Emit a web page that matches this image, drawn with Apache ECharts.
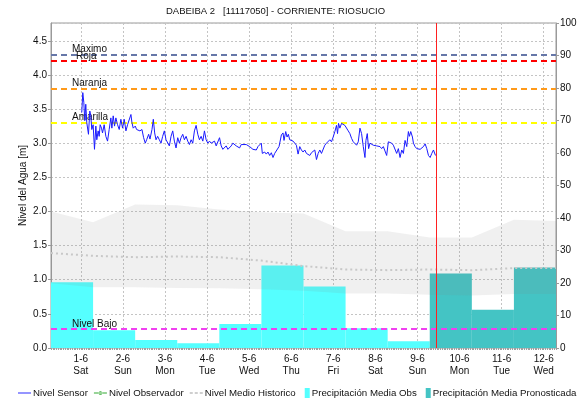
<!DOCTYPE html>
<html><head><meta charset="utf-8">
<script src="https://cdn.jsdelivr.net/npm/echarts@6/dist/echarts.min.js"></script>
<style>html,body{margin:0;padding:0;background:#fff}#c{width:583px;height:401px}</style>
</head><body><div id="c"></div>
<script>
// ---------- DATA ----------
const titleText = 'DABEIBA 2   [11117050] - CORRIENTE: RIOSUCIO';
const dayTicks = [1,2,3,4,5,6,7,8,9,10,11,12];
const tickLabels = ['1-6\nSat','2-6\nSun','3-6\nMon','4-6\nTue','5-6\nWed','6-6\nThu','7-6\nFri','8-6\nSat','9-6\nSun','10-6\nMon','11-6\nTue','12-6\nWed'];
const dayStart = 7/24;            // precipitation days run 07:00 -> 07:00
const axisStartDay = 7/24;
const axisEndDay = 12 + 7/24;
const nowDay = 9.44;
// daily precipitation (mm)
const precipObs = [20.2, 5.5, 2.5, 1.5, 7.4, 25.4, 18.9, 6.1, 2.1];
const precipPron = [22.9, 11.8, 24.8];
// historical level (m), one point per day at 07:00
const histUpper = [2.00, 1.84, 2.10, 2.09, 2.03, 1.99, 1.97, 1.71, 1.71, 1.62, 1.62, 1.88, 1.86];
const histLower = [0.95, 0.89, 0.89, 0.88, 0.875, 0.86, 0.84, 0.80, 0.80, 0.78, 0.77, 0.79, 0.79];
const histMean  = [1.39, 1.35, 1.33, 1.34, 1.33, 1.28, 1.20, 1.15, 1.14, 1.15, 1.14, 1.17, 1.17];
// thresholds (m)
const thresholdNames  = ['Maximo', 'Roja', 'Naranja', 'Amarilla', 'Nivel Bajo'];
const thresholdValues = [4.3, 4.2, 3.8, 3.3, 0.28];
// sensor level (day, m)
const sensorDays = [1.023,1.047,1.071,1.094,1.118,1.142,1.182,1.214,1.237,1.261,
1.293,1.325,1.357,1.380,1.412,1.436,1.460,1.492,1.516,1.555,
1.595,1.635,1.674,1.714,1.738,1.770,1.801,1.833,1.873,1.913,
1.952,1.992,2.032,2.072,2.111,2.151,2.191,2.215,2.246,2.294,
2.326,2.373,2.405,2.453,2.493,2.532,2.564,2.612,2.644,2.691,
2.723,2.755,2.787,2.826,2.866,2.906,2.945,2.985,3.025,3.065,
3.104,3.144,3.184,3.223,3.263,3.303,3.343,3.382,3.422,3.462,
3.502,3.541,3.581,3.621,3.660,3.700,3.740,3.780,3.819,3.859,
3.899,3.938,3.978,4.018,4.058,4.097,4.137,4.177,4.217,4.256,
4.296,4.336,4.375,4.415,4.455,4.495,4.534,4.574,4.614,4.653,
4.693,4.733,4.773,4.812,4.852,4.931,
5.011,5.090,5.170,5.210,5.289,5.313,5.369,5.408,5.448,5.488,
5.527,5.567,5.607,5.647,5.710,5.766,5.805,5.829,5.869,5.901,
5.932,5.964,6.004,6.044,6.083,6.123,6.163,6.203,6.242,6.282,
6.322,6.362,6.401,6.441,6.481,6.520,6.560,6.600,6.640,6.679,
6.719,6.759,6.798,6.838,6.878,6.918,6.957,6.997,7.037,7.076,
7.100,7.124,7.156,7.196,7.235,7.275,7.315,7.355,7.394,7.434,
7.474,7.513,7.553,7.593,7.633,7.672,7.712,7.752,7.775,7.807,
7.839,7.871,7.911,7.950,7.990,8.030,8.069,8.109,8.149,8.189,
8.228,8.268,8.308,8.348,8.387,8.427,8.467,8.506,8.546,8.586,
8.626,8.665,8.705,8.745,8.784,8.808,8.840,8.880,8.904,8.943,
8.983,9.023,9.063,9.102,9.142,9.182,9.221,9.261,9.301,9.340,
9.380,9.404,9.428];
const sensorLevels = [3.45,3.74,3.60,3.33,3.57,3.30,3.13,3.47,3.40,3.20,
3.27,2.91,3.25,3.05,3.18,3.10,3.27,3.22,3.15,3.27,
3.10,3.03,3.20,3.37,3.22,3.40,3.25,3.37,3.27,3.20,
3.35,3.22,3.35,3.18,3.27,3.25,3.42,3.30,3.22,3.25,
3.20,3.22,3.18,3.20,3.08,3.00,3.05,3.13,3.06,3.20,
3.35,3.15,3.05,3.10,3.05,3.00,3.10,3.18,3.05,3.03,
2.96,3.10,3.18,3.03,2.93,3.08,3.00,3.08,3.13,3.05,
3.10,3.03,2.98,3.05,3.00,3.18,3.26,3.13,3.05,3.10,
3.03,3.18,3.05,3.00,3.03,3.00,2.98,3.03,2.96,2.96,
3.08,2.96,2.91,2.93,2.96,2.91,2.93,2.96,3.00,3.00,
2.96,2.98,2.93,2.98,2.96,2.98,
2.95,2.91,2.90,2.95,3.00,2.85,2.87,2.84,2.87,2.82,
2.86,2.79,2.85,2.85,2.95,3.12,3.15,3.04,3.17,3.09,
3.13,3.05,3.07,3.03,3.04,2.97,2.84,2.95,2.90,2.87,
2.90,2.85,2.87,2.82,2.86,2.85,2.90,2.76,2.85,2.90,
2.85,2.87,2.97,3.00,2.99,3.05,3.02,3.09,3.17,3.26,
3.14,3.29,3.22,3.29,3.28,3.26,3.24,3.18,3.14,3.07,
3.02,3.00,2.97,3.02,3.22,3.14,2.95,2.79,3.04,3.14,
2.92,3.00,3.02,2.97,2.95,2.96,2.94,2.95,2.92,2.95,
2.95,2.82,3.02,3.00,3.00,2.97,2.95,2.85,2.92,2.79,
2.90,2.85,3.04,2.95,3.17,3.10,3.17,3.09,3.00,2.95,
2.92,2.90,2.91,2.92,2.95,2.99,2.92,2.82,2.79,2.85,
2.90,2.91,2.82];

// ---------- BUILD ----------
const FONT = 'Liberation Sans, Arial, sans-serif';
const obsBars = precipObs.map((v, i) => [dayStart + i, dayStart + i + 1, v]);
const pronBars = precipPron.map((v, i) => [dayStart + precipObs.length + i, dayStart + precipObs.length + i + 1, v]);
const histDays = histUpper.map((_, i) => dayStart + i);
const bandData = histUpper.map((v, i) => [histDays[i], histLower[i], v]);
const meanData = histMean.map((v, i) => [histDays[i], v]);
const sensorData = sensorDays.map((d, i) => [d, sensorLevels[i]]);

const thrStyle = [
  {color: '#6677a8', dx: 21},
  {color: '#ff0000', dx: 25},
  {color: '#ff9a1a', dx: 21},
  {color: '#ffff00', dx: 21},
  {color: '#f040f0', dx: 21}
];
const thrLines = thresholdValues.map((v, i) => ({
  yAxis: v, name: thresholdNames[i],
  lineStyle: {color: thrStyle[i].color, type: [6, 4], width: 2},
  label: {show: true, formatter: thresholdNames[i], position: 'insideStartTop',
          distance: [thrStyle[i].dx, 0], color: '#111', fontSize: 10, fontFamily: FONT}
}));
thrLines.push({xAxis: nowDay, lineStyle: {color: '#ff2020', type: 'solid', width: 1}, label: {show: false}});

function rectItem(params, api) {
  const p0 = api.coord([api.value(0), api.value(2)]);
  const p1 = api.coord([api.value(1), 0]);
  return {type: 'rect', shape: {x: p0[0], y: p0[1], width: p1[0] - p0[0], height: p1[1] - p0[1]}, style: api.style()};
}
function bandItem(params, api) {
  if (params.dataIndex !== 0) return null;
  const top = bandData.map(d => api.coord([d[0], d[2]]));
  const bot = bandData.slice().reverse().map(d => api.coord([d[0], d[1]]));
  return {type: 'polygon', shape: {points: top.concat(bot)}, style: {fill: 'rgba(128,128,128,0.12)'}};
}

const gridLine = {show: true, lineStyle: {color: '#c4c4c4', type: [2, 2], width: 1}};
const LT = {fontSize: 9.7, color: '#111', fontFamily: FONT, padding: [0, 0, 0, -3]};
const LTR = {fontSize: 9.7, color: '#111', fontFamily: FONT, padding: [0, 0, 0, -8]};
const rectIcon = 'path://M3,0L8,0L8,10L3,10Z M0,0L0,0 M13,10L13,10';
const chart = echarts.init(document.getElementById('c'), null, {renderer: 'canvas'});
chart.setOption({
  animation: false,
  backgroundColor: '#fff',
  textStyle: {fontFamily: FONT},
  title: {text: titleText, left: 166, top: 6, padding: 0, textStyle: {fontSize: 9.5, fontWeight: 'normal', color: '#111', fontFamily: FONT}},
  grid: {left: 51, right: 27, top: 23, bottom: 53, show: true, borderColor: '#9a9a9a', borderWidth: 1, backgroundColor: 'transparent'},
  legend: {
    left: 18, top: 388, width: 1200, padding: 0, itemWidth: 13, itemHeight: 10, itemGap: 6,
    textStyle: LT,
    data: [
      {name: 'Nivel Sensor', icon: 'path://M0,4.5L14,4.5L14,5.5L0,5.5Z', itemStyle: {color: '#1a1aff'}, textStyle: LT},
      {name: 'Nivel Observador', icon: 'path://M0,4.5L14,4.5L14,5.5L0,5.5Z M5,5a2,2 0 1,0 4,0a2,2 0 1,0 -4,0Z', itemStyle: {color: '#33aa33'}, textStyle: LT},
      {name: 'Nivel Medio Historico', icon: 'path://M0,4L3,4L3,6L0,6Z M5,4L8,4L8,6L5,6Z M10,4L13,4L13,6L10,6Z', itemStyle: {color: '#cfcfcf'}, textStyle: LT},
      {name: 'Precipitación Media Obs', icon: rectIcon, textStyle: LTR},
      {name: 'Precipitación Media Pronosticada', icon: rectIcon, textStyle: LTR}
    ]
  },
  xAxis: [{
    type: 'value', min: axisStartDay, max: axisEndDay,
    axisLine: {show: false},
    axisTick: {show: false, customValues: dayTicks},
    axisLabel: {customValues: dayTicks, formatter: v => tickLabels[Math.round(v) - 1] || '', fontSize: 10, lineHeight: 12, color: '#111', margin: 5, fontFamily: FONT},
    splitLine: gridLine
  }, {
    type: 'value', min: 0, max: 288, interval: 1, position: 'bottom',
    axisLine: {show: false}, axisLabel: {show: false}, splitLine: {show: false},
    axisTick: {show: true, length: 2, lineStyle: {color: '#a0a0a0', width: 1}}
  }],
  yAxis: [{
    type: 'value', min: 0, max: 4.76, interval: 0.5,
    name: 'Nivel del Agua [m]', nameLocation: 'middle', nameGap: 23, nameMoveOverlap: false,
    nameTextStyle: {fontSize: 10, color: '#111', fontFamily: FONT},
    axisLine: {show: true, lineStyle: {color: '#9a9a9a'}},
    axisTick: {show: true, length: 3, lineStyle: {color: '#9a9a9a'}},
    axisLabel: {formatter: v => v.toFixed(1), fontSize: 10, color: '#111', margin: 4, showMaxLabel: false, fontFamily: FONT},
    splitLine: gridLine
  }, {
    type: 'value', min: 0, max: 100, interval: 10, position: 'right',
    axisLine: {show: true, lineStyle: {color: '#9a9a9a'}},
    axisTick: {show: true, length: 3, lineStyle: {color: '#9a9a9a'}},
    axisLabel: {fontSize: 10, color: '#111', margin: 4, fontFamily: FONT},
    splitLine: {show: false}
  }],
  series: [
    {name: 'Precipitación Media Obs', type: 'custom', xAxisIndex: 0, yAxisIndex: 1, renderItem: rectItem,
     encode: {x: [0, 1], y: 2}, data: obsBars, itemStyle: {color: '#55ffff'}},
    {name: 'Precipitación Media Pronosticada', type: 'custom', xAxisIndex: 0, yAxisIndex: 1, renderItem: rectItem,
     encode: {x: [0, 1], y: 2}, data: pronBars, itemStyle: {color: '#44c4c4'}},
    {name: 'bandHist', type: 'custom', xAxisIndex: 0, yAxisIndex: 0, renderItem: bandItem,
     encode: {x: 0, y: [1, 2]}, data: bandData, silent: true},
    {name: 'Nivel Medio Historico', type: 'line', data: meanData, symbol: 'none',
     lineStyle: {color: '#c8c8c8', width: 2, type: [2, 3]}, itemStyle: {color: '#c8c8c8'}},
    {name: 'Nivel Observador', type: 'line', data: [], symbol: 'circle', symbolSize: 4,
     lineStyle: {color: '#33aa33', width: 1}, itemStyle: {color: '#33aa33'}},
    {name: 'Nivel Sensor', type: 'line', data: sensorData, symbol: 'none', z: 5,
     lineStyle: {color: '#1a1aff', width: 1}, itemStyle: {color: '#1a1aff'},
     markLine: {silent: true, symbol: 'none', animation: false, data: thrLines}}
  ]
});
</script></body></html>
